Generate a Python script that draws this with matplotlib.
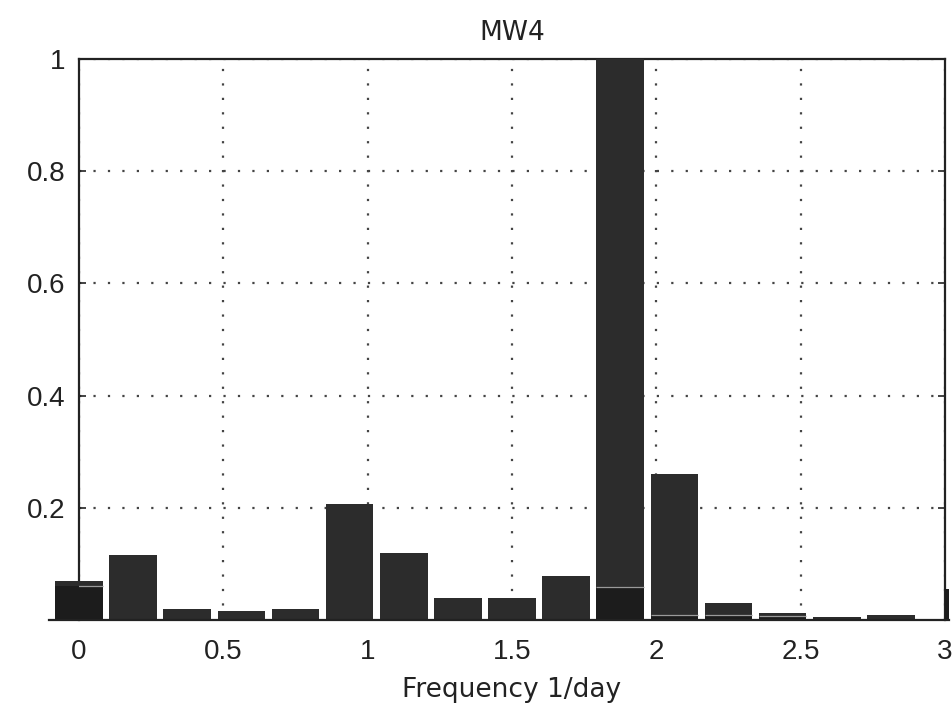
import numpy as np
import matplotlib
matplotlib.use("Agg")
import matplotlib.pyplot as plt

# Frequencies (1/day) of the spectral bins
freqs = [0.0, 0.1875, 0.375, 0.5625, 0.75, 0.9375, 1.125, 1.3125, 1.5,
         1.6875, 1.875, 2.0625, 2.25, 2.4375, 2.625, 2.8125]
# Normalised power (full bar heights)
power = [0.070, 0.116, 0.020, 0.016, 0.020, 0.207, 0.120, 0.040, 0.039,
         0.078, 1.000, 0.260, 0.030, 0.012, 0.005, 0.009]
# Inner (lower) component visible inside some bars
inner = [0.060, 0.0, 0.0, 0.0, 0.0, 0.0, 0.0, 0.0, 0.0,
         0.0, 0.059, 0.009, 0.009, 0.007, 0.0, 0.0]
# Last bin at 3 1/day, only its edge shows at the right border
edge_freq = [3.0]
edge_power = [0.055]

xticks = [0, 0.5, 1, 1.5, 2, 2.5, 3]
xticklabels = ["0", "0.5", "1", "1.5", "2", "2.5", "3"]
yticks = [0.2, 0.4, 0.6, 0.8, 1.0]
yticklabels = ["0.2", "0.4", "0.6", "0.8", "1"]

plt.rcParams['font.family'] = ['Liberation Sans', 'DejaVu Sans']

fig = plt.figure(figsize=(9.53, 7.09), dpi=100)
ax = fig.add_axes([0.0829, 0.1255, 0.9087, 0.7913])

width = 0.165
x = np.array(freqs)
p = np.array(power)
q = np.array(inner)

ax.bar(x, p, width=width, color='#2c2c2c', edgecolor='none',
       zorder=3, clip_on=False)
mask = q > 0
ax.bar(x[mask], q[mask], width=width, color='#1c1c1c', edgecolor='none',
       zorder=4, clip_on=False)
ax.hlines(q[mask], x[mask] - width / 2, x[mask] + width / 2,
          colors='#9a9a9a', linewidth=0.9, zorder=5)
ax.bar(edge_freq, edge_power, width=0.014, align='edge', color='#1c1c1c',
       edgecolor='none', zorder=4, clip_on=False)

ax.set_xlim(0, 3)
ax.set_ylim(0, 1)
ax.set_xticks(xticks)
ax.set_xticklabels(xticklabels)
ax.set_yticks(yticks)
ax.set_yticklabels(yticklabels)
ax.tick_params(axis='both', direction='in', length=5, width=1.2,
               labelsize=20, colors='#222222', pad=10, right=True)
ax.tick_params(axis='x', length=0, pad=14)

ax.grid(True, linestyle=(0, (1, 5.5)), color='#444444', linewidth=1.6, zorder=1)
ax.set_axisbelow(True)

ax.spines['bottom'].set_visible(False)
for s in ['left', 'top', 'right']:
    ax.spines[s].set_linewidth(1.6)
    ax.spines[s].set_color('#222222')
ax.axhline(0, color='#222222', linewidth=1.6, zorder=6, xmin=-0.035, xmax=1.005,
           clip_on=False)

ax.set_title("MW4", fontsize=19, color='#222222', pad=14,
             family=['DejaVu Sans'])
ax.set_xlabel("Frequency 1/day", fontsize=19, color='#222222', labelpad=8,
              family=['DejaVu Sans'])

fig.savefig("out.png", dpi=100, facecolor='white')
